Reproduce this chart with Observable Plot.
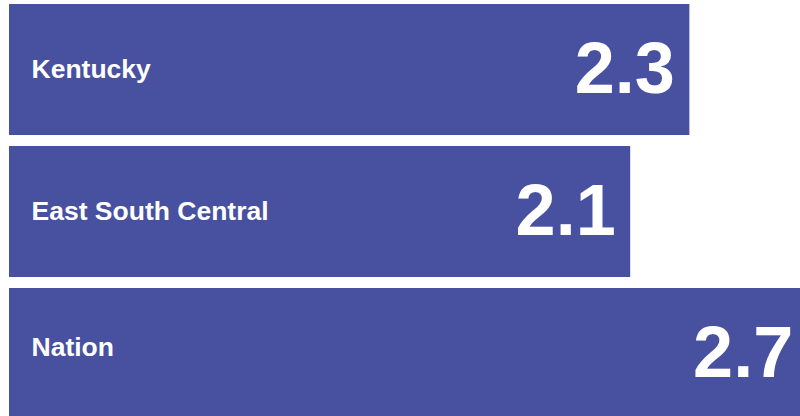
<!DOCTYPE html>
<html>
<head>
<meta charset="utf-8">
<script src="https://cdn.jsdelivr.net/npm/d3@7"></script>
<script src="https://cdn.jsdelivr.net/npm/@observablehq/plot@0.6"></script>
<style>
  html, body { margin: 0; padding: 0; background: #fff; overflow: hidden; }
  #chart svg { display: block; }
</style>
</head>
<body>
<div id="chart"></div>
<script>
const categories = ["Kentucky", "East South Central", "Nation"];
const values = [2.3, 2.1, 2.7];

const data = categories.map((c, i) => ({category: c, value: values[i]}));
const fill = "#4850a0";
const labelStyle = {
  x: 0, y: "category", text: "category",
  textAnchor: "start", dx: 22, fill: "white",
  fontSize: 26.5, fontWeight: "bold"
};

const chart = Plot.plot({
  width: 800,
  height: 420,
  marginTop: 3,
  marginBottom: 0,
  marginLeft: 9,
  marginRight: 0,
  style: {fontFamily: "'Liberation Sans', Arial, sans-serif", background: "white", overflow: "hidden"},
  x: {domain: [0, 2.674], axis: null},
  y: {domain: categories, axis: null, paddingInner: 0.077, paddingOuter: 0},
  marks: [
    Plot.barX(data, {x: "value", y: "category", fill: fill}),
    Plot.text(data.filter(d => d.category !== "Nation"), {...labelStyle, dy: -0.5}),
    Plot.text(data.filter(d => d.category === "Nation"), {...labelStyle, dy: -6}),
    Plot.text(data, {
      x: "value", y: "category", text: d => d.value.toFixed(1),
      textAnchor: "end", dx: -15, dy: 0, fill: "white",
      fontSize: 72, fontWeight: "bold"
    })
  ]
});
document.getElementById("chart").append(chart);
</script>
</body>
</html>
